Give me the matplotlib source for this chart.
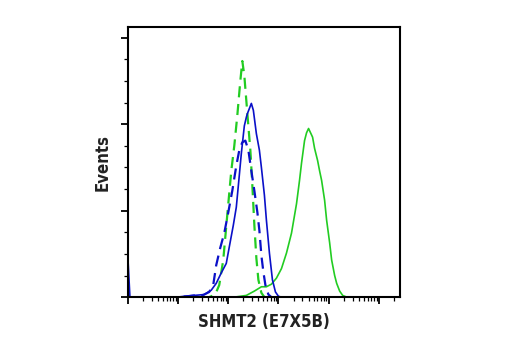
import numpy as np
import matplotlib.pyplot as plt
from matplotlib.ticker import MultipleLocator, LogLocator, NullFormatter

# log10 fluorescence intensity and event counts
blue_solid_log = [0.00, 0.04, 0.98, 1.12, 1.32, 1.52, 1.66, 1.76, 1.86, 1.96, 2.02, 2.10, 2.16,
                  2.22, 2.26, 2.32, 2.36, 2.38, 2.42, 2.46, 2.50, 2.56, 2.62, 2.66, 2.72, 2.76,
                  2.82, 2.88, 2.94, 3.00, 3.06, 5.50]
blue_solid_cnt = [45, 0, 0, 1, 2, 3, 8, 16, 28, 39, 58, 83, 104,
                  141, 166, 198, 208, 212, 218, 224, 216, 189, 170, 150, 118, 89,
                  51, 20, 6, 1, 0, 0]

blue_dash_log = [0.05, 0.98, 1.18, 1.32, 1.42, 1.52, 1.62, 1.70, 1.76, 1.84, 1.92, 2.00, 2.08,
                 2.16, 2.22, 2.28, 2.34, 2.40, 2.46, 2.52, 2.58, 2.62, 2.66, 2.70, 2.74, 2.80,
                 2.86, 5.50]
blue_dash_cnt = [0, 0, 1, 2, 1, 3, 6, 14, 37, 57, 74, 98, 123,
                 152, 170, 179, 181, 170, 146, 123, 98, 77, 48, 29, 14, 3,
                 0, 0]

green_dash_log = [0.05, 1.62, 1.74, 1.82, 1.90, 1.98, 2.06, 2.12, 2.18, 2.24, 2.28, 2.32, 2.36,
                  2.40, 2.44, 2.48, 2.52, 2.56, 2.60, 2.66, 2.72, 5.50]
green_dash_cnt = [0, 0, 3, 14, 43, 95, 146, 175, 210, 250, 273, 256, 227,
                  198, 170, 129, 83, 45, 20, 5, 0, 0]

green_solid_log = [0.05, 1.42, 2.12, 2.36, 2.52, 2.66, 2.76, 2.86, 2.96, 3.06, 3.16, 3.26, 3.36,
                   3.42, 3.46, 3.52, 3.56, 3.60, 3.64, 3.68, 3.72, 3.78, 3.82, 3.86, 3.92, 3.96,
                   4.02, 4.06, 4.12, 4.16, 4.22, 4.28, 4.36, 5.50]
green_solid_cnt = [0, 0, 0, 2, 7, 12, 12, 15, 22, 33, 51, 74, 108,
                   135, 155, 181, 190, 195, 190, 185, 172, 158, 146, 135, 112, 89,
                   63, 43, 25, 16, 7, 2, 0, 0]

blue = '#0a10c8'
green = '#22cc22'

fig = plt.figure(figsize=(5.2, 3.5), dpi=100)
ax = fig.add_axes([0.246, 0.151, 0.523, 0.771])

ax.plot(10 ** np.array(green_solid_log), green_solid_cnt, color=green, lw=1.2)
ax.plot(10 ** np.array(green_dash_log), green_dash_cnt, color=green, lw=1.6, dashes=(5, 3))
ax.plot(10 ** np.array(blue_dash_log), blue_dash_cnt, color=blue, lw=1.6, dashes=(5, 3))
ax.plot(10 ** np.array(blue_solid_log), blue_solid_cnt, color=blue, lw=1.2)

ax.set_xscale('log')
ax.set_xlim(1, 10 ** 5.42)
ax.set_ylim(0, 312)
ax.xaxis.set_major_locator(LogLocator(base=10))
ax.xaxis.set_minor_locator(LogLocator(base=10, subs=np.arange(2, 10)))
ax.xaxis.set_major_formatter(NullFormatter())
ax.xaxis.set_minor_formatter(NullFormatter())
ax.yaxis.set_major_locator(MultipleLocator(100))
ax.yaxis.set_minor_locator(MultipleLocator(25))
ax.yaxis.set_major_formatter(NullFormatter())

for s in ax.spines.values():
    s.set_linewidth(1.5)
ax.tick_params(which='major', length=5, width=1.3, direction='out')
ax.tick_params(which='minor', length=3, width=0.9, direction='out')

lab = dict(family='DejaVu Sans', fontstretch='condensed', fontweight='bold',
           fontsize=12, color='#222222')
ax.set_xlabel('SHMT2 (E7X5B)', labelpad=3, **lab)
ax.set_ylabel('Events', labelpad=3, **lab)

fig.savefig('out.png', dpi=100)
